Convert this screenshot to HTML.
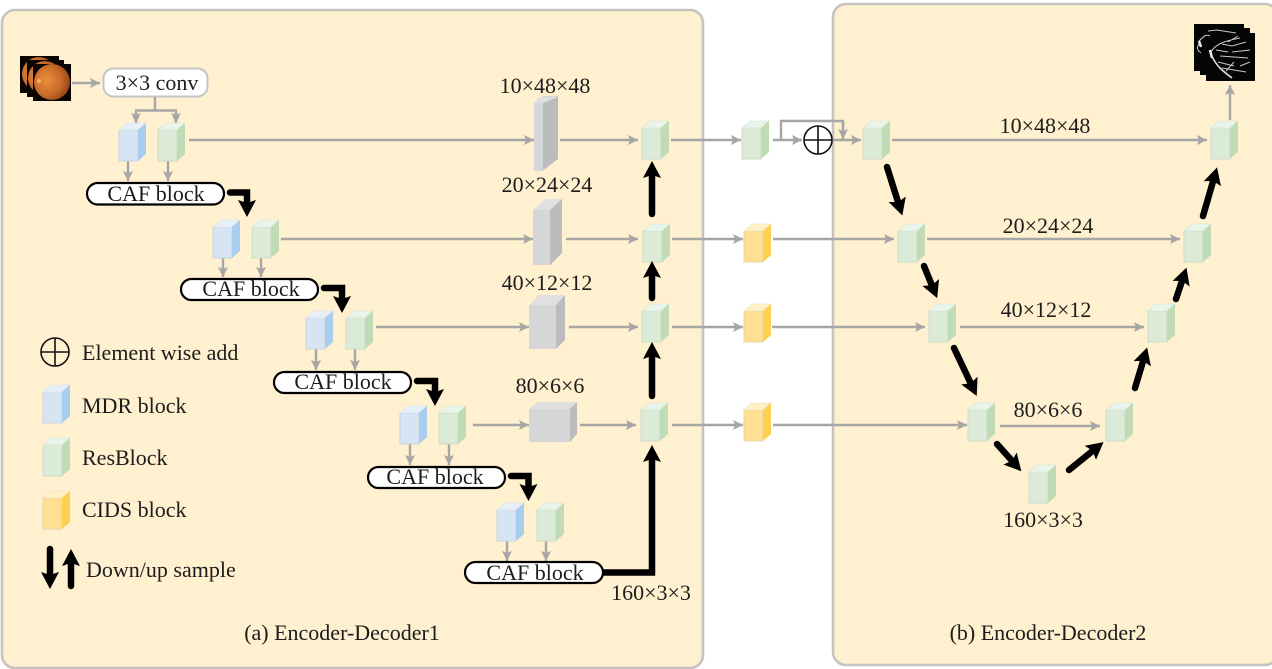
<!DOCTYPE html>
<html><head><meta charset="utf-8"><style>
html,body{margin:0;padding:0;background:#fff;width:1272px;height:669px;overflow:hidden}
svg{display:block;filter:blur(.35px)}
text{font-family:"Liberation Serif",serif;font-size:22px;fill:#1c1c1c;text-anchor:middle}
.l{text-anchor:start;font-size:22px}
.g{stroke:#a6a6a6;stroke-width:2.4;fill:none}
.k{stroke:#000;stroke-width:6.500;fill:none;stroke-linecap:round;stroke-linejoin:miter}
.v{stroke:#c8c8c8;fill:none;stroke-width:1}
</style></head><body>
<svg width="1272" height="669" viewBox="0 0 1272 669">
<defs>
<marker id="ga" markerUnits="userSpaceOnUse" markerWidth="11" markerHeight="10" refX="10" refY="5" orient="auto"><path d="M0 0L10 5L0 10L2 5Z" fill="#a6a6a6"/></marker>
<marker id="ka" markerUnits="userSpaceOnUse" markerWidth="18" markerHeight="18" refX="6" refY="9" orient="auto"><path d="M0 0L17 9L0 18L3 9Z" fill="#000"/></marker>
<radialGradient id="eye" cx=".35" cy=".45" r=".7"><stop offset="0" stop-color="#e8913c"/><stop offset=".6" stop-color="#c8682a"/><stop offset="1" stop-color="#8a4016"/></radialGradient>
<g id="b"><path d="M0 0H19V31H0Z" fill="#d6e4f4" stroke="#c9d6dc"/><path d="M0 0L8 -7H27L19 0Z" fill="#e7f0f8" stroke="#d8e2e4" stroke-width=".6"/><path d="M19 0L27 -7V24L19 31Z" fill="#a9cdee"/></g>
<g id="r"><path d="M0 0H19V31H0Z" fill="#dcebd8" stroke="#cbdcc8"/><path d="M0 0L8 -7H27L19 0Z" fill="#e9f4ea" stroke="#d6e4d4" stroke-width=".6"/><path d="M19 0L27 -7V24L19 31Z" fill="#bfdcb6"/></g>
<g id="y"><path d="M0 0H19V31H0Z" fill="#ffdf90" stroke="#e8d7a8"/><path d="M0 0L8 -7H27L19 0Z" fill="#fff0c8" stroke="#eee0b8" stroke-width=".6"/><path d="M19 0L27 -7V24L19 31Z" fill="#fdd050"/></g>
<g id="o"><circle r="14" fill="none" stroke="#111" stroke-width="1.6"/><path d="M-14 0H14M0 -14V14" stroke="#111" stroke-width="1.6"/></g>
</defs>

<rect x="2" y="10" width="701" height="658" rx="13" fill="#fff0cf" stroke="#c6c4c0" stroke-width="2.6"/>
<rect x="833" y="4" width="445" height="661" rx="13" fill="#fff0cf" stroke="#c6c4c0" stroke-width="2.6"/>

<!-- fundus stack -->
<rect x="20" y="56" width="39" height="37" fill="#0a0500"/><circle cx="39" cy="74" r="17" fill="url(#eye)"/>
<rect x="27" y="60" width="37" height="37" fill="#0a0500"/><circle cx="45" cy="78" r="17" fill="url(#eye)"/>
<rect x="33" y="64" width="38" height="37" fill="#0a0500"/><circle cx="52" cy="82" r="18" fill="url(#eye)"/>
<circle cx="39" cy="81" r="2" fill="#f2b060"/>

<!-- vessel stack -->
<rect x="1194" y="24" width="50" height="47" fill="#050505"/>
<rect x="1200" y="28" width="50" height="47" fill="#050505"/>
<rect x="1206" y="33" width="49" height="48" fill="#050505"/>
<path class="v" d="M1200 43C1196 47 1197 50 1201 53M1208 31L1217 30L1236 33M1199 41C1204 36 1206 34 1210 36"/>
<path class="v" d="M1211 52C1216 43 1226 41 1240 38M1222 44L1232 46L1246 42M1228 42L1238 36M1211 54C1214 64 1222 70 1231 77M1222 68L1246 72M1218 62L1234 66M1226 71L1234 62M1216 50L1228 52M1220 56L1248 58M1232 52L1250 50M1240 66L1250 62"/>
<path d="M1210 50L1212 58" stroke="#eee" stroke-width="2.5"/><path d="M1199 41L1201 47" stroke="#eee" stroke-width="2.5"/>
<path d="M1212 56C1216 66 1224 72 1232 78" stroke="#ddd" stroke-width="1.6" fill="none"/>

<!-- conv -->
<rect x="103.500" y="68.500" width="104" height="28" rx="10" fill="#fff" stroke="#c4c4c4" stroke-width="2"/>
<text x="157" y="90">3×3 conv</text>

<!-- encoder grey connectors -->
<g class="g">
<line x1="72" y1="83" x2="100" y2="83" marker-end="url(#ga)"/>
<path d="M155 97V110.500M136 122V110.500H176V122M136 110.500V122" />
<line x1="136" y1="112" x2="136" y2="123" marker-end="url(#ga)"/><line x1="176" y1="112" x2="176" y2="123" marker-end="url(#ga)"/>
<line x1="128" y1="161" x2="128" y2="181" marker-end="url(#ga)"/><line x1="168" y1="161" x2="168" y2="181" marker-end="url(#ga)"/>
<line x1="223" y1="258" x2="223" y2="277" marker-end="url(#ga)"/><line x1="261" y1="258" x2="261" y2="277" marker-end="url(#ga)"/>
<line x1="316" y1="349" x2="316" y2="370" marker-end="url(#ga)"/><line x1="355" y1="349" x2="355" y2="370" marker-end="url(#ga)"/>
<line x1="410" y1="444" x2="410" y2="465" marker-end="url(#ga)"/><line x1="449" y1="444" x2="449" y2="465" marker-end="url(#ga)"/>
<line x1="507" y1="541" x2="507" y2="561" marker-end="url(#ga)"/><line x1="546" y1="541" x2="546" y2="561" marker-end="url(#ga)"/>

<line x1="189" y1="140" x2="534" y2="140" marker-end="url(#ga)"/>
<line x1="560" y1="140" x2="638" y2="140" marker-end="url(#ga)"/>
<line x1="671" y1="140" x2="741" y2="140" marker-end="url(#ga)"/>
<line x1="773" y1="140" x2="802" y2="140" marker-end="url(#ga)"/>
<line x1="833" y1="140" x2="861" y2="140" marker-end="url(#ga)"/>
<path d="M781 140V121H843V130"/><line x1="843" y1="122" x2="843" y2="139" marker-end="url(#ga)"/>

<line x1="281" y1="239" x2="533" y2="239" marker-end="url(#ga)"/>
<line x1="566" y1="239" x2="638" y2="239" marker-end="url(#ga)"/>
<line x1="672" y1="239" x2="743" y2="239" marker-end="url(#ga)"/>
<line x1="773" y1="239" x2="894" y2="239" marker-end="url(#ga)"/>

<line x1="376" y1="327" x2="529" y2="327" marker-end="url(#ga)"/>
<line x1="569" y1="327" x2="638" y2="327" marker-end="url(#ga)"/>
<line x1="672" y1="327" x2="743" y2="327" marker-end="url(#ga)"/>
<line x1="772" y1="327" x2="925" y2="327" marker-end="url(#ga)"/>

<line x1="473" y1="425" x2="529" y2="425" marker-end="url(#ga)"/>
<line x1="580" y1="425" x2="636" y2="425" marker-end="url(#ga)"/>
<line x1="672" y1="425" x2="743" y2="425" marker-end="url(#ga)"/>
<line x1="773" y1="425" x2="967" y2="425" marker-end="url(#ga)"/>

<line x1="892" y1="140" x2="1207" y2="140" marker-end="url(#ga)"/>
<line x1="927" y1="239" x2="1180" y2="239" marker-end="url(#ga)"/>
<line x1="960" y1="327" x2="1144" y2="327" marker-end="url(#ga)"/>
<line x1="1000" y1="426" x2="1100" y2="426" marker-end="url(#ga)"/>
<line x1="1230" y1="120" x2="1230" y2="85" marker-end="url(#ga)"/>
</g>

<!-- grey blocks -->
<g>
<path d="M534 103L543 96H558V159L543 171H534Z" fill="#d6d6d8"/><path d="M543 103L558 96V159L543 170Z" fill="#bcbcbe"/><path d="M534 103L540 97H558L543 103Z" fill="#e0e0e2"/>
<path d="M533 210H550V265H533Z" fill="#d6d6d8"/><path d="M533 210L545 199H562L550 210Z" fill="#e0e0e2"/><path d="M550 210L562 199V253L550 265Z" fill="#bcbcbe"/>
<path d="M529 305H556V349H529Z" fill="#d6d6d8"/><path d="M529 305L539 295H565L556 305Z" fill="#e0e0e2"/><path d="M556 305L565 295V340L556 349Z" fill="#bcbcbe"/>
<path d="M529 409H570V442H529Z" fill="#d6d6d8"/><path d="M529 409L537 402H577L570 409Z" fill="#e0e0e2"/><path d="M570 409L577 402V434L570 442Z" fill="#bcbcbe"/>
</g>

<!-- cubes -->
<use href="#b" x="119" y="130"/><use href="#r" x="158" y="130"/>
<use href="#b" x="213" y="227"/><use href="#r" x="252" y="227"/>
<use href="#b" x="306" y="318"/><use href="#r" x="346" y="318"/>
<use href="#b" x="400" y="413"/><use href="#r" x="439" y="413"/>
<use href="#b" x="497" y="510"/><use href="#r" x="537" y="510"/>
<use href="#r" x="642" y="128"/><use href="#r" x="643" y="231"/><use href="#r" x="642" y="311"/><use href="#r" x="641" y="410"/>
<use href="#r" x="742" y="128"/><use href="#y" x="744" y="231"/><use href="#y" x="744" y="311"/><use href="#y" x="744" y="410"/>
<use href="#r" x="863" y="128"/><use href="#r" x="898" y="231"/><use href="#r" x="929" y="311"/><use href="#r" x="968" y="410"/>
<use href="#r" x="1029" y="472"/><use href="#r" x="1106" y="410"/><use href="#r" x="1148" y="311"/><use href="#r" x="1184" y="231"/><use href="#r" x="1211" y="128"/>
<use href="#o" x="818" y="140"/>

<!-- CAF blocks -->
<g fill="#fff" stroke="#000" stroke-width="2.2">
<rect x="87" y="183" width="137" height="21.500" rx="10.700"/>
<rect x="181" y="279" width="137" height="21" rx="10.500"/>
<rect x="274" y="372" width="137" height="21" rx="10.500"/>
<rect x="368" y="467" width="137" height="21" rx="10.500"/>
<rect x="465" y="562" width="138" height="21" rx="10.500"/>
</g>
<text x="156" y="201">CAF block</text>
<text x="251" y="296">CAF block</text>
<text x="343" y="389">CAF block</text>
<text x="435" y="484">CAF block</text>
<text x="535" y="580">CAF block</text>

<!-- black arrows -->
<g class="k">
<path d="M230 192.500H247V206" marker-end="url(#ka)"/>
<path d="M324 288H342V302" marker-end="url(#ka)"/>
<path d="M417 381H435V395" marker-end="url(#ka)"/>
<path d="M511 476H528.500V490" marker-end="url(#ka)"/>
<path d="M652 214V172" marker-end="url(#ka)"/>
<path d="M652 298V272" marker-end="url(#ka)"/>
<path d="M652 396V353" marker-end="url(#ka)"/>
<path d="M603 572.500H652V456" marker-end="url(#ka)" stroke-linecap="butt"/>
<path d="M887 167L899 205" marker-end="url(#ka)"/>
<path d="M924 266L933 288" marker-end="url(#ka)"/>
<path d="M954 348L972 386" marker-end="url(#ka)"/>
<path d="M997 444L1014 463" marker-end="url(#ka)"/>
<path d="M1069 470L1095 449" marker-end="url(#ka)"/>
<path d="M1135 388L1144 358" marker-end="url(#ka)"/>
<path d="M1176 299L1183 278" marker-end="url(#ka)"/>
<path d="M1203 216L1214 178" marker-end="url(#ka)"/>
<path d="M50 549V578" marker-end="url(#ka)"/>
<path d="M71 586V560" marker-end="url(#ka)"/>
</g>

<!-- dimension labels -->
<text x="545" y="93">10×48×48</text>
<text x="547" y="192">20×24×24</text>
<text x="547" y="290">40×12×12</text>
<text x="550" y="393">80×6×6</text>
<text x="651" y="600">160×3×3</text>
<text x="1045" y="133">10×48×48</text>
<text x="1048" y="233">20×24×24</text>
<text x="1046" y="317">40×12×12</text>
<text x="1048" y="417">80×6×6</text>
<text x="1043" y="527">160×3×3</text>
<text x="342" y="640">(a) Encoder-Decoder1</text>
<text x="1048" y="640">(b) Encoder-Decoder2</text>

<!-- legend -->
<use href="#o" x="55" y="352"/>
<use href="#b" x="43" y="392"/><use href="#r" x="43" y="445"/><use href="#y" x="43" y="498"/>
<text class="l" x="82" y="360">Element wise add</text>
<text class="l" x="82" y="413">MDR block</text>
<text class="l" x="82" y="465">ResBlock</text>
<text class="l" x="82" y="517">CIDS block</text>
<text class="l" x="86" y="577">Down/up sample</text>
</svg>
</body></html>
